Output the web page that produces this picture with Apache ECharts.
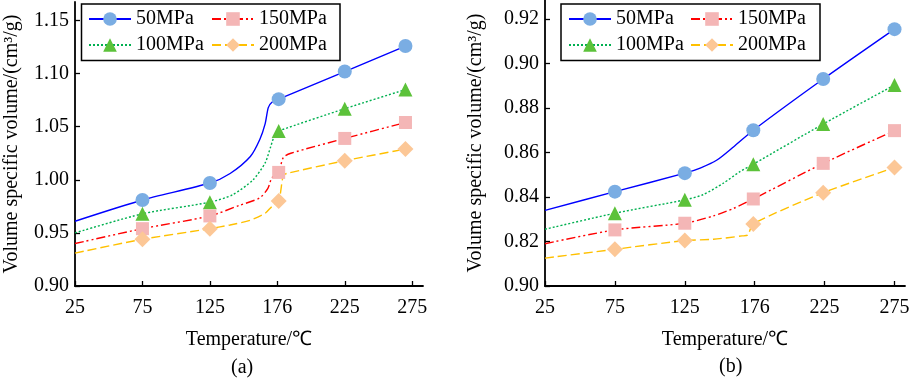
<!DOCTYPE html>
<html>
<head>
<meta charset="utf-8">
<script src="https://cdn.jsdelivr.net/npm/echarts@6/dist/echarts.min.js"></script>
<style>
  html, body { margin: 0; padding: 0; background: #fff; }
  #chart { width: 913px; height: 378px; }
</style>
</head>
<body>
<div id="chart"></div>
<script>
// ===== Data =====
const seriesNames = ['50MPa', '100MPa', '150MPa', '200MPa'];

// tick values / labels (the source labels 175 as "176", and the bottom of (b) as "0.90")
const xTickValues = [25, 75, 125, 175, 225, 275];
const xTickLabels = ['25', '75', '125', '176', '225', '275'];
const yTickValuesA = [0.90, 0.95, 1.00, 1.05, 1.10, 1.15];
const yTickLabelsA = ['0.90', '0.95', '1.00', '1.05', '1.10', '1.15'];
const yTickValuesB = [0.80, 0.82, 0.84, 0.86, 0.88, 0.90, 0.92];
const yTickLabelsB = ['0.90', '0.82', '0.84', '0.86', '0.88', '0.90', '0.92'];

// ---- panel (a) ----
const tempsA  = [75, 125, 176, 225, 270];
const startA  = [0.961, 0.950, 0.940, 0.931];   // value at 25 ℃ (no marker)
const a50     = [0.981, 0.997, 1.076, 1.102, 1.126];
const a100    = [0.968, 0.979, 1.046, 1.067, 1.085];
const a150    = [0.954, 0.966, 1.007, 1.039, 1.054];
const a200    = [0.944, 0.954, 0.980, 1.018, 1.029];
// extra points (no marker)
const bendA50  = [[140, 1.006], [155, 1.022], [162, 1.038], [166, 1.053], [168.3, 1.068], [171, 1.073]];
const bendA100 = [[142, 0.986], [157, 1.000], [166, 1.016], [170, 1.031], [173.3, 1.043]];
const bendA150 = [[147, 0.976], [162, 0.983], [168, 0.992], [171, 1.002], [179.4, 1.021], [185, 1.025]];
const bendA200 = [[140, 0.9575], [155, 0.962], [166, 0.9685], [171, 0.975], [179.4, 1.004], [182, 1.006]];

// ---- panel (b) ----
const tempsB  = [75, 125, 174, 224, 275];
const startB  = [0.834, 0.8255, 0.819, 0.8125];
const b50     = [0.8424, 0.8507, 0.8700, 0.8930, 0.9154];
const b100    = [0.8327, 0.8387, 0.8547, 0.8728, 0.8903];
const b150    = [0.8252, 0.8282, 0.8391, 0.8551, 0.8698];
const b200    = [0.8165, 0.8204, 0.8279, 0.8419, 0.8532];
const bendB50  = [[136, 0.853], [148, 0.8566], [160, 0.8626]];
const bendB100 = [[138, 0.841], [152.6, 0.8462], [164.5, 0.8514]];
const bendB150 = [[145.5, 0.8315], [160, 0.8349]];
const bendB200 = [[145.5, 0.821], [166, 0.8225], [170, 0.8229]];

// ===== Styles =====
const FONT = "'Liberation Serif', 'Times New Roman', serif";
const styles = {
  '50MPa':  { line: '#0000ff', mark: '#7aade3', symbol: 'circle',   size: 14, type: 'solid' },
  '100MPa': { line: '#00b050', mark: '#5cc23a', symbol: 'triangle', size: 14, type: [2, 2] },
  '150MPa': { line: '#ff0000', mark: '#f4b6b6', symbol: 'rect',     size: 13, type: [9, 3, 2, 3, 2, 3] },
  '200MPa': { line: '#ffc000', mark: '#fcc796', symbol: 'diamond',  size: 16, type: [9, 4] }
};

function buildData(start, temps, vals, bends) {
  const pts = [{ value: [25, start], symbol: 'none' }];
  temps.forEach((t, i) => pts.push({ value: [t, vals[i]] }));
  bends.forEach(b => pts.push({ value: b, symbol: 'none' }));
  pts.sort((p, q) => p.value[0] - q.value[0]);
  return pts;
}

function makeSeries(name, idx, start, temps, vals, bends) {
  const s = styles[name];
  return {
    name, type: 'line', xAxisIndex: idx, yAxisIndex: idx,
    data: buildData(start, temps, vals, bends),
    smooth: 0.25,
    symbol: s.symbol, symbolSize: s.size, showAllSymbol: true,
    lineStyle: { color: s.line, width: 1.4, type: s.type },
    itemStyle: { color: s.mark },
    emphasis: { disabled: true },
    animation: false
  };
}

function xAxisCfg(idx) {
  return {
    type: 'value', gridIndex: idx, min: 25, max: idx === 0 ? 283 : 282.5,
    name: 'Temperature/℃', nameLocation: 'middle', nameGap: 44,
    nameTextStyle: { fontFamily: FONT, fontSize: 20, color: '#000' },
    axisLine: { lineStyle: { color: '#000', width: 1.8 } },
    axisTick: { inside: true, length: 5, customValues: xTickValues, lineStyle: { color: '#000', width: 1.3 } },
    axisLabel: {
      customValues: xTickValues, margin: 12,
      fontFamily: FONT, fontSize: 20, color: '#000',
      formatter: v => xTickLabels[xTickValues.indexOf(v)]
    },
    splitLine: { show: false }
  };
}

function yAxisCfg(idx, min, max, vals, labels, gap) {
  return {
    type: 'value', gridIndex: idx, min, max,
    name: 'Volume specific volume/(cm³/g)', nameLocation: 'middle', nameGap: gap,
    nameTextStyle: { fontFamily: FONT, fontSize: 20, color: '#000' },
    axisLine: { show: true, lineStyle: { color: '#000', width: 1.8 } },
    axisTick: { show: true, inside: true, length: 5, customValues: vals, lineStyle: { color: '#000', width: 1.3 } },
    axisLabel: {
      customValues: vals, margin: 6,
      fontFamily: FONT, fontSize: 20, color: '#000',
      formatter: v => {
        const i = vals.findIndex(t => Math.abs(t - v) < 1e-6);
        return i >= 0 ? labels[i] : '';
      }
    },
    splitLine: { show: false }
  };
}

function legendCfg(left, names) {
  return {
    left, top: 4, orient: 'vertical', data: names,
    itemWidth: 42, itemHeight: 17, itemGap: 6,
    textStyle: { fontFamily: FONT, fontSize: 20, color: '#000', lineHeight: 20 },
    selectedMode: false
  };
}

// ===== Chart =====
const chart = echarts.init(document.getElementById('chart'), null, { renderer: 'canvas' });

chart.setOption({
  backgroundColor: '#fff',
  animation: false,
  title: [
    { text: '(a)', left: 231, top: 358, textStyle: { fontFamily: FONT, fontSize: 20, fontWeight: 'normal', color: '#000' }, padding: 0 },
    { text: '(b)', left: 719, top: 357, textStyle: { fontFamily: FONT, fontSize: 20, fontWeight: 'normal', color: '#000' }, padding: 0 }
  ],
  grid: [
    { left: 75, right: 913 - 423, top: 2, bottom: 92 },
    { left: 545, right: 8, top: 0, bottom: 92 }
  ],
  xAxis: [xAxisCfg(0), xAxisCfg(1)],
  yAxis: [
    yAxisCfg(0, 0.90, 1.1675, yTickValuesA, yTickLabelsA, 53),
    yAxisCfg(1, 0.80, 0.9285, yTickValuesB, yTickLabelsB, 59)
  ],
  legend: [
    legendCfg(83, ['50MPa', '100MPa']),
    legendCfg(206, ['150MPa', '200MPa']),
    legendCfg(563, ['50MPa', '100MPa']),
    legendCfg(685, ['150MPa', '200MPa'])
  ],
  graphic: [
    { type: 'rect', shape: { x: 81.5, y: 4, width: 258.5, height: 56.5 }, style: { fill: 'none', stroke: '#000', lineWidth: 1.5 }, z: 1 },
    { type: 'rect', shape: { x: 561, y: 4, width: 259, height: 56.5 }, style: { fill: 'none', stroke: '#000', lineWidth: 1.5 }, z: 1 }
  ],
  series: [
    makeSeries('50MPa', 0, startA[0], tempsA, a50, bendA50),
    makeSeries('100MPa', 0, startA[1], tempsA, a100, bendA100),
    makeSeries('150MPa', 0, startA[2], tempsA, a150, bendA150),
    makeSeries('200MPa', 0, startA[3], tempsA, a200, bendA200),
    makeSeries('50MPa', 1, startB[0], tempsB, b50, bendB50),
    makeSeries('100MPa', 1, startB[1], tempsB, b100, bendB100),
    makeSeries('150MPa', 1, startB[2], tempsB, b150, bendB150),
    makeSeries('200MPa', 1, startB[3], tempsB, b200, bendB200)
  ]
});
</script>
</body>
</html>
